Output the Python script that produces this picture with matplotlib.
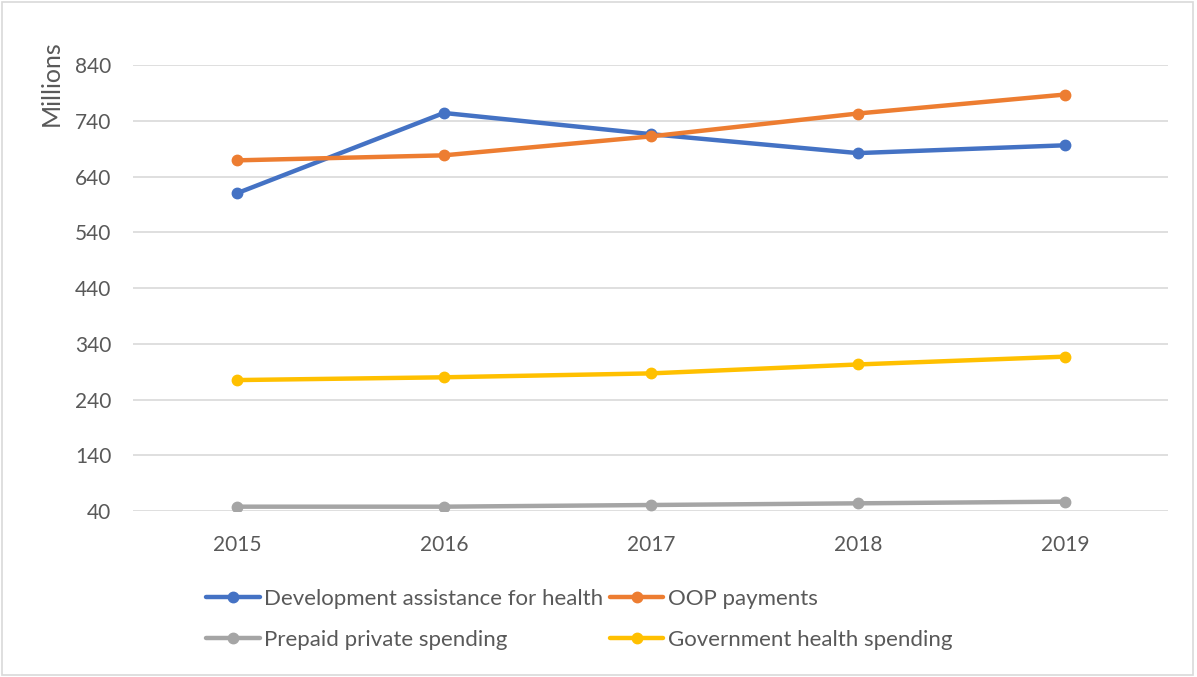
import matplotlib.pyplot as plt
from matplotlib.patches import Rectangle

years = ['2015', '2016', '2017', '2018', '2019']
dev_assist = [610, 754, 716, 682, 696]
oop = [669, 678, 712, 753, 787]
prepaid = [48, 48, 51, 54, 57]
gov = [275, 280, 287, 303, 317]
yticks = [40, 140, 240, 340, 440, 540, 640, 740, 840]

plt.rcParams['font.family'] = ['Lato', 'DejaVu Sans']

fig = plt.figure(figsize=(11.97, 6.77), dpi=100)
ax = fig.add_axes([0.1115, 0.245, 0.8645, 0.659])

x = range(len(years))
series = [
    ('Development assistance for health', dev_assist, '#4472C4'),
    ('OOP payments', oop, '#ED7D31'),
    ('Prepaid private spending', prepaid, '#A5A5A5'),
    ('Government health spending', gov, '#FFC000'),
]
lines = {}
for name, vals, col in series:
    ln, = ax.plot(x, vals, color=col, lw=3.2, marker='o', ms=7.5, label=name,
                  solid_capstyle='round', zorder=3)
    lines[name] = ln

ax.set_xlim(-0.5, 4.5)
ax.set_ylim(40, 840)
ax.set_yticks(yticks)
ax.set_xticks(list(x))
ax.set_xticklabels(years)
ax.grid(axis='y', color='#D9D9D9', lw=1.2)
ax.set_axisbelow(True)
for s in ax.spines.values():
    s.set_visible(False)
ax.tick_params(axis='both', length=0, labelsize=15, colors='#595959')
ax.tick_params(axis='y', pad=16)
ax.tick_params(axis='x', pad=17)
ax.set_ylabel('Millions', fontsize=18, color='#595959', va='center')
ax.yaxis.set_label_coords(-0.079, 0.96)

# legend order is column-major, so interleave to get the reference rows
order = ['Development assistance for health', 'Prepaid private spending',
         'OOP payments', 'Government health spending']
fig.legend([lines[n] for n in order], order, ncol=2, frameon=False,
           loc='upper left', bbox_to_anchor=(0.165, 0.143), fontsize=16,
           labelcolor='#595959', handlelength=2.4, handletextpad=0.2,
           columnspacing=0.3, labelspacing=0.95, borderaxespad=0)

fig.add_artist(Rectangle((0.002, 0.003), 0.995, 0.994, transform=fig.transFigure,
                         fill=False, edgecolor='#D9D9D9', lw=1.2))

fig.savefig('out.png', dpi=100)
